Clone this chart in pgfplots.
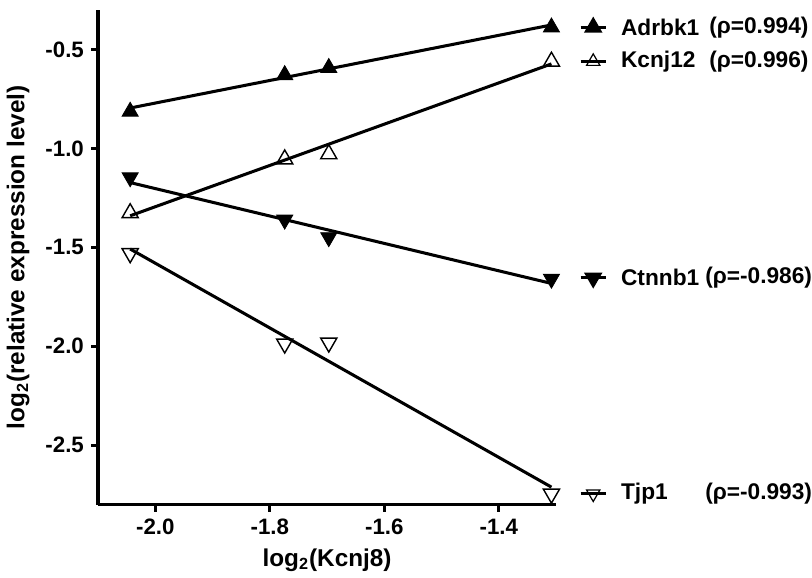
\documentclass[border=0pt]{standalone}
\usepackage{fontspec}
\setmainfont{Liberation Sans}
\usepackage{pgfplots}
\pgfplotsset{compat=1.18}
\begin{document}
\begin{tikzpicture}
\begin{axis}[
 name=main,
 scale only axis, width=226pt, height=244pt,
 xmin=-2.1, xmax=-1.3, ymin=-2.8, ymax=-0.3,
 axis x line*=bottom, axis y line*=left,
 axis line style={line width=1.6pt, -},
 xtick={-2.0,-1.8,-1.6,-1.4}, ytick={-2.5,-2.0,-1.5,-1.0,-0.5},
 tick align=outside, major tick length=3.5pt,
 tick style={line width=1.5pt, black},
 xticklabel style={/pgf/number format/fixed, /pgf/number format/fixed zerofill, /pgf/number format/precision=1},
 yticklabel style={/pgf/number format/fixed, /pgf/number format/fixed zerofill, /pgf/number format/precision=1},
 /pgf/number format/assume math mode=true,
 tick label style={font=\bfseries\fontsize{11}{13}\selectfont},
 label style={font=\bfseries\fontsize{12}{14}\selectfont},
 ylabel style={yshift=1pt},
 xlabel={log\textsubscript{2}(Kcnj8)},
 ylabel={log\textsubscript{2}(relative expression level)},
 clip=false,
]
% regression lines
\addplot[black, line width=1.5pt] coordinates {(-2.044,-0.795) (-1.308,-0.375)};
\addplot[black, line width=1.5pt] coordinates {(-2.044,-1.340) (-1.308,-0.572)};
\addplot[black, line width=1.5pt] coordinates {(-2.044,-1.172) (-1.308,-1.682)};
\addplot[black, line width=1.5pt] coordinates {(-2.044,-1.508) (-1.308,-2.712)};
% data
\addplot[only marks, mark=triangle*, mark size=4.6pt, mark options={fill=black, draw=black}] coordinates {(-2.044,-0.813) (-1.774,-0.628) (-1.697,-0.592) (-1.308,-0.387)};
\addplot[only marks, mark=triangle, mark size=4.6pt, mark options={draw=black, line width=0.7pt}] coordinates {(-2.044,-1.326) (-1.774,-1.054) (-1.697,-1.028) (-1.308,-0.560)};
\addplot[only marks, mark=triangle*, mark size=4.6pt, mark options={fill=black, draw=black, rotate=180}] coordinates {(-2.044,-1.146) (-1.774,-1.360) (-1.697,-1.449) (-1.308,-1.659)};
\addplot[only marks, mark=triangle, mark size=4.6pt, mark options={draw=black, line width=0.7pt, rotate=180}] coordinates {(-2.044,-1.530) (-1.774,-1.987) (-1.697,-1.982) (-1.308,-2.746)};
% legend samples
\addplot[black, line width=1.5pt, mark=triangle*, mark size=3.8pt, mark indices={2}, mark options={fill=black}] coordinates {(-1.257,-0.387) (-1.235,-0.387) (-1.213,-0.387)};
\addplot[black, line width=1.5pt, mark=triangle, mark size=3.8pt, mark indices={2}, mark options={line width=0.6pt}] coordinates {(-1.257,-0.560) (-1.235,-0.560) (-1.213,-0.560)};
\addplot[black, line width=1.5pt, mark=triangle*, mark size=3.8pt, mark indices={2}, mark options={fill=black, rotate=180}] coordinates {(-1.257,-1.654) (-1.235,-1.654) (-1.213,-1.654)};
\addplot[black, line width=1.5pt, mark=triangle, mark size=3.8pt, mark indices={2}, mark options={line width=0.6pt, rotate=180}] coordinates {(-1.257,-2.746) (-1.235,-2.746) (-1.213,-2.746)};
\begin{scope}[every node/.style={anchor=west, inner sep=0pt, font=\bfseries\fontsize{11.2}{13}\selectfont}]
\node at (axis cs:-1.187,-0.387) {Adrbk1};
\node at (axis cs:-1.033,-0.387) {(ρ=0.994)};
\node at (axis cs:-1.187,-0.560) {Kcnj12};
\node at (axis cs:-1.033,-0.560) {(ρ=0.996)};
\node at (axis cs:-1.187,-1.654) {Ctnnb1};
\node at (axis cs:-1.040,-1.654) {(ρ=-0.986)};
\node at (axis cs:-1.187,-2.746) {Tjp1};
\node at (axis cs:-1.040,-2.746) {(ρ=-0.993)};
\end{scope}
\end{axis}
\path ([yshift=5pt]main.north west);
\end{tikzpicture}
\end{document}
